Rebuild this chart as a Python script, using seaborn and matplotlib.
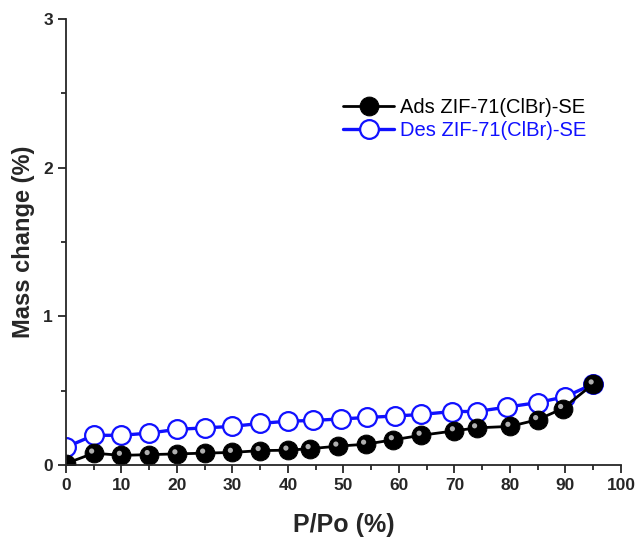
import matplotlib
matplotlib.use("Agg")
import matplotlib.pyplot as plt
import matplotlib.transforms as mtransforms
import seaborn as sns

# P/Po (%) and mass change (%)
ads_p = [0, 5, 10, 15, 20, 25, 30, 35, 40, 44, 49, 54, 59, 64, 70, 74, 80, 85, 89.5, 95]
ads_m = [0.01, 0.08, 0.065, 0.07, 0.075, 0.08, 0.085, 0.097, 0.10, 0.11, 0.127, 0.14, 0.17,
         0.20, 0.23, 0.25, 0.26, 0.305, 0.38, 0.545]
des_p = [0, 5, 10, 15, 20, 25, 30, 35, 40, 44.5, 49.5, 54.3, 59.3, 64, 69.6, 74, 79.5, 85, 90, 95]
des_m = [0.12, 0.20, 0.20, 0.215, 0.24, 0.25, 0.26, 0.28, 0.295, 0.30, 0.31, 0.32, 0.33,
         0.34, 0.36, 0.36, 0.39, 0.42, 0.46, 0.545]

sns.set_style("ticks")
plt.rcParams['font.family'] = ['Liberation Sans', 'DejaVu Sans']

fig = plt.figure(figsize=(6.38, 5.37), dpi=100)
ax = fig.add_axes([0.1034, 0.134, 0.8699, 0.8306])

sns.lineplot(x=ads_p, y=ads_m, ax=ax, color='black', linewidth=2, marker='o',
             markersize=13.5, markerfacecolor='black', markeredgecolor='black',
             label='Ads ZIF-71(ClBr)-SE', zorder=3)
# highlight on the black spheres
sns.scatterplot(x=ads_p, y=ads_m, ax=ax, color='#b0b0b0', s=14, edgecolor='none',
                legend=False, zorder=4)
shift = mtransforms.ScaledTranslation(-1.5 / 72, 1.5 / 72, fig.dpi_scale_trans)
ax.collections[-1].set_offset_transform(ax.transData + shift)
sns.lineplot(x=des_p, y=des_m, ax=ax, color='#1010ff', linewidth=2.4, marker='o',
             markersize=13.5, markerfacecolor='white', markeredgecolor='#1010ff',
             markeredgewidth=1.6, label='Des ZIF-71(ClBr)-SE', zorder=2)

ax.set_xlim(0, 100)
ax.set_ylim(0, 3)
ax.set_xticks(range(0, 101, 10))
ax.set_xticks(range(5, 100, 10), minor=True)
ax.set_yticks([0, 1, 2, 3])
ax.set_yticks([0.5, 1.5, 2.5], minor=True)
ax.tick_params(axis='both', which='major', direction='out', length=6, width=1.3,
               labelsize=12.5)
ax.tick_params(axis='both', which='minor', direction='out', length=3.5, width=1.3)
for lbl in ax.get_xticklabels() + ax.get_yticklabels():
    lbl.set_fontweight('bold')
for s in ['left', 'bottom']:
    ax.spines[s].set_linewidth(1.3)
    ax.spines[s].set_zorder(5)
sns.despine(ax=ax)

ax.set_xlabel('P/Po (%)', fontsize=18, fontweight='bold', labelpad=14)
ax.set_ylabel('Mass change (%)', fontsize=17, fontweight='bold', labelpad=6)

leg = ax.legend(loc='center left', bbox_to_anchor=(0.5, 0.775), frameon=False,
                fontsize=14.5, handlelength=2.5, handletextpad=0.3, labelspacing=0.2,
                borderpad=0, borderaxespad=0)
for txt, col in zip(leg.get_texts(), ['black', '#1010ff']):
    txt.set_color(col)

fig.savefig('out.png', dpi=100)
